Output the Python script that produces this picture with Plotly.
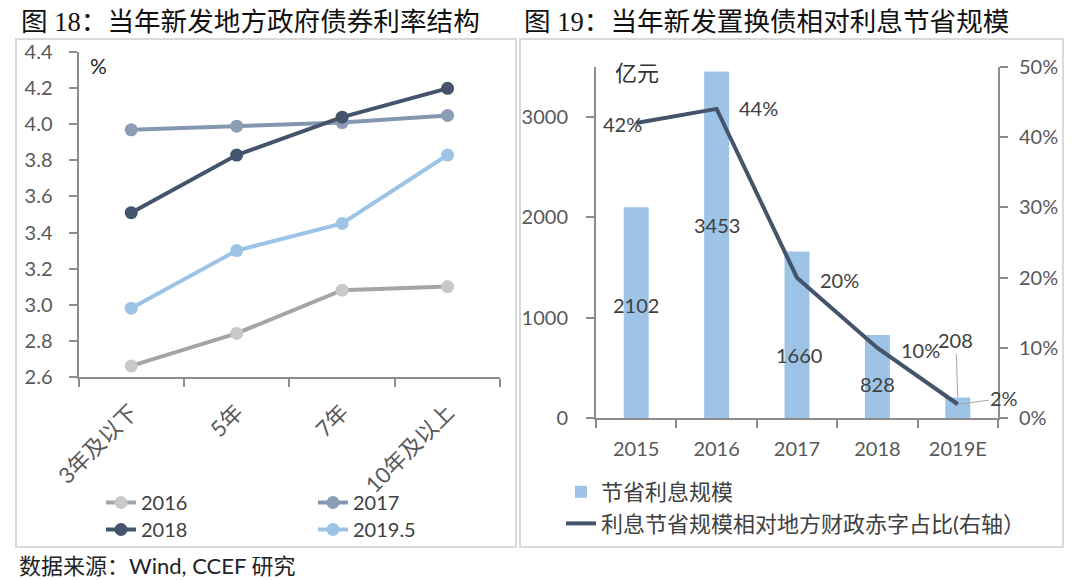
import plotly.graph_objects as go

# ---------------- data: left chart ----------------
terms = ["3年及以下", "5年", "7年", "10年及以上"]
series_names = ["2016", "2017", "2018", "2019.5"]
rate_2016 = [2.66, 2.84, 3.08, 3.10]
rate_2017 = [3.97, 3.99, 4.01, 4.05]
rate_2018 = [3.51, 3.83, 4.04, 4.20]
rate_2019_5 = [2.98, 3.30, 3.45, 3.83]
left_ticks = [2.6, 2.8, 3.0, 3.2, 3.4, 3.6, 3.8, 4.0, 4.2, 4.4]

# ---------------- data: right chart ----------------
years = ["2015", "2016", "2017", "2018", "2019E"]
saving = [2102, 3453, 1660, 828, 208]
ratio = [0.42, 0.44, 0.20, 0.10, 0.02]
saving_ticks = [0, 1000, 2000, 3000]
ratio_ticks = [0, 0.1, 0.2, 0.3, 0.4, 0.5]

# ---------------- styling ----------------
W, H = 1080, 580
OFF = 8  # page body margin in the browser
def px(x):
    return (x - OFF) / W
def py(y):
    return 1 - (y - OFF) / H

FONT = "Lato, Noto Sans CJK SC, sans-serif"
CJK = "Noto Sans CJK SC, sans-serif"
TITLE_FONT = "Liberation Serif, Noto Sans CJK SC, serif"
TICK_COLOR = "#595959"
LABEL_COLOR = "#404040"
AXIS_COLOR = "#8C8C8C"

line_colors = ["#A5A5A5", "#8497B0", "#44546A", "#9DC3E6"]
marker_colors = ["#C9C9C9", "#8C9EB6", "#44546A", "#9DC3E6"]
left_values = [rate_2016, rate_2017, rate_2018, rate_2019_5]
legend_ids = ["legend", "legend", "legend3", "legend3"]

# label offsets (pixels) for data labels
bar_label_shift = [(0, -98), (0, -154), (2, -103), (0, -49)]
line_label_shift = [(-14, -1), (42, 1), (42, -2), (43, -2)]

fig = go.Figure()

for name, vals, lc, mc, lg in zip(series_names, left_values, line_colors, marker_colors, legend_ids):
    fig.add_trace(go.Scatter(
        x=terms, y=vals, name=name, mode="lines+markers",
        line=dict(color=lc, width=4), marker=dict(color=mc, size=13),
        xaxis="x", yaxis="y", legend=lg, hoverinfo="skip"))

fig.add_trace(go.Bar(
    x=years, y=saving, name="节省利息规模", marker=dict(color="#9DC3E6", line=dict(width=0)),
    width=0.31, xaxis="x2", yaxis="y2", legend="legend2", hoverinfo="skip"))
fig.add_trace(go.Scatter(
    x=years, y=ratio, name="利息节省规模相对地方财政赤字占比(右轴）", mode="lines",
    line=dict(color="#44546A", width=4),
    xaxis="x2", yaxis="y3", legend="legend2", hoverinfo="skip"))

axis_common = dict(showline=True, linecolor=AXIS_COLOR, linewidth=2, ticks="outside",
                   ticklen=8, tickwidth=2, tickcolor=AXIS_COLOR, showgrid=False,
                   zeroline=False, automargin=False)
tick_font = dict(family=FONT, size=20, color=TICK_COLOR)

label_font = dict(family=FONT, size=20, color=LABEL_COLOR)
annotations = []
# data labels: bars (x given as category index)
for i, v in enumerate(saving):
    if i < len(bar_label_shift):
        dx, dy = bar_label_shift[i]
        annotations.append(dict(x=i, y=v, xref="x2", yref="y2", text=str(v), showarrow=False,
                                xshift=dx, yshift=dy, font=label_font))
    else:
        annotations.append(dict(x=i, y=v, xref="x2", yref="y2", text=str(v), showarrow=True,
                                arrowhead=0, arrowwidth=1, arrowcolor="#A6A6A6", ax=-2, ay=-57,
                                standoff=0, font=label_font))
# data labels: line
for i, v in enumerate(ratio):
    txt = f"{round(v * 100)}%"
    if i < len(line_label_shift):
        dx, dy = line_label_shift[i]
        annotations.append(dict(x=i, y=v, xref="x2", yref="y3", text=txt, showarrow=False,
                                xshift=dx, yshift=dy, font=label_font))
    else:
        annotations.append(dict(x=i, y=v, xref="x2", yref="y3", text=txt, showarrow=True,
                                arrowhead=0, arrowwidth=1, arrowcolor="#A6A6A6", ax=46, ay=-6,
                                standoff=0, font=label_font))

# titles, units, footer
annotations += [
    dict(x=px(19), y=py(22), xref="paper", yref="paper", xanchor="left", yanchor="middle",
         text="图 18：当年新发地方政府债券利率结构", showarrow=False,
         font=dict(family=TITLE_FONT, size=26.6, color="#111111")),
    dict(x=px(522), y=py(22), xref="paper", yref="paper", xanchor="left", yanchor="middle",
         text="图 19：当年新发置换债相对利息节省规模", showarrow=False,
         font=dict(family=TITLE_FONT, size=26.6, color="#111111")),
    dict(x=px(98), y=py(66), xref="paper", yref="paper", xanchor="center", yanchor="middle",
         text="%", showarrow=False, font=dict(family=FONT, size=21, color="#222222")),
    dict(x=px(637), y=py(71), xref="paper", yref="paper", xanchor="center", yanchor="middle",
         text="亿元", showarrow=False, font=dict(family=CJK, size=22, color="#333333")),
    dict(x=px(17), y=py(565), xref="paper", yref="paper", xanchor="left", yanchor="middle",
         text="数据来源：Wind, CCEF 研究", showarrow=False,
         font=dict(family=FONT, size=22, color="#222222")),
]

shapes = [
    dict(type="rect", xref="paper", yref="paper", x0=px(16), x1=px(516), y0=py(39), y1=py(547),
         line=dict(color="#D9D9D9", width=2), layer="below"),
    dict(type="rect", xref="paper", yref="paper", x0=px(520), x1=px(1063), y0=py(39), y1=py(547),
         line=dict(color="#D9D9D9", width=2), layer="below"),
]

legend_common = dict(xanchor="left", yanchor="top", bgcolor="rgba(0,0,0,0)", tracegroupgap=0)

fig.update_layout(
    width=W, height=H, margin=dict(l=0, r=0, t=0, b=0, pad=0, autoexpand=False),
    paper_bgcolor="white", plot_bgcolor="rgba(0,0,0,0)",
    font=dict(family=FONT, color=LABEL_COLOR),
    showlegend=True,
    xaxis=dict(domain=[px(78.5), px(500.3)], anchor="y", type="category", range=[-0.5, 3.5],
               tickson="boundaries", tickangle=-45, ticklabelstandoff=12,
               tickfont=dict(family=FONT, size=22, color=TICK_COLOR), **axis_common),
    yaxis=dict(domain=[py(376.7), py(52.3)], anchor="x", range=[2.6, 4.4],
               tickvals=left_ticks, tickformat=".1f", ticklabelstandoff=12,
               tickfont=tick_font, **axis_common),
    xaxis2=dict(domain=[px(596), px(998)], anchor="y2", type="category", range=[-0.5, 4.5],
                tickson="boundaries", ticklabelstandoff=12, tickfont=tick_font, **axis_common),
    yaxis2=dict(domain=[py(418.3), py(66.7)], anchor="x2", range=[0, 3500],
                tickvals=saving_ticks, ticklabelstandoff=14, tickfont=tick_font, **axis_common),
    yaxis3=dict(overlaying="y2", anchor="x2", side="right", range=[0, 0.5],
                tickvals=ratio_ticks, tickformat=".0%", ticklabelstandoff=7,
                tickfont=tick_font, **axis_common),
    legend=dict(x=px(101), y=py(483), orientation="h", entrywidth=167,
                entrywidthmode="pixels", font=dict(family=FONT, size=20, color=LABEL_COLOR),
                **legend_common),
    legend3=dict(x=px(101), y=py(510), orientation="h", entrywidth=167,
                 entrywidthmode="pixels", font=dict(family=FONT, size=20, color=LABEL_COLOR),
                 **legend_common),
    legend2=dict(x=px(561), y=py(471), orientation="v",
                 font=dict(family=FONT, size=22, color=LABEL_COLOR), **legend_common),
    annotations=annotations, shapes=shapes,
)

fig.write_html("out.html")
